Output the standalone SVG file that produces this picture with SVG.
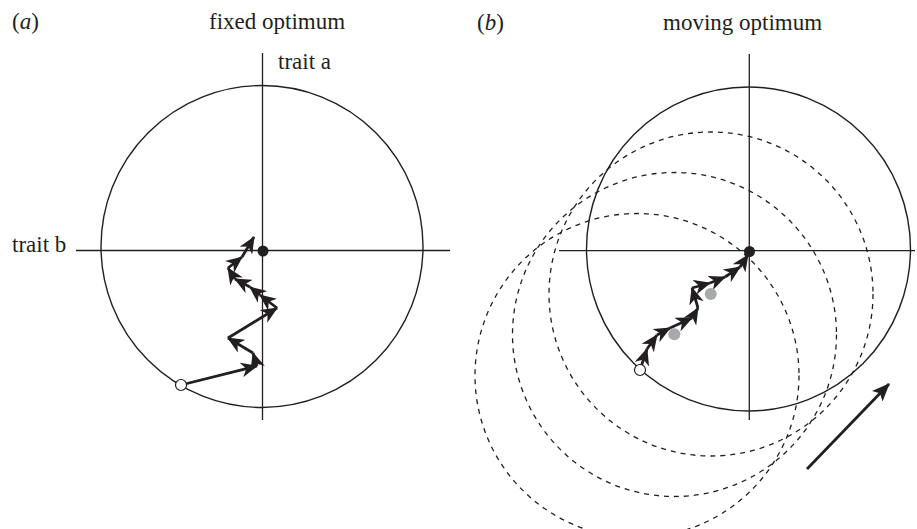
<svg xmlns="http://www.w3.org/2000/svg" width="917" height="529" viewBox="0 0 917 529">
<style>
  .lbl { font-family: "Liberation Serif", "Times New Roman", serif; font-size: 23px; fill: #231f20; }
  .axis { stroke: #231f20; stroke-width: 1.3; fill: none; }
  .contour { stroke: #231f20; stroke-width: 1.4; fill: none; }
  .dash { stroke: #231f20; stroke-width: 1.3; fill: none; stroke-dasharray: 5 5; }
  .step { stroke: #231f20; stroke-width: 2.8; fill: none; marker-end: url(#ah); }
  .opt { fill: #231f20; }
  .start { fill: #ffffff; stroke: #231f20; stroke-width: 1.2; }
  .prev { fill: #a7a9ac; }
</style>
<defs>
  <marker id="ah" markerUnits="userSpaceOnUse" markerWidth="17" markerHeight="15" refX="16" refY="7.5" orient="auto">
    <path d="M0,0 L17,7.5 L0,15 L5,7.5 z" fill="#231f20"/>
  </marker>
  <marker id="ahBig" markerUnits="userSpaceOnUse" markerWidth="18" markerHeight="15" refX="17" refY="7.5" orient="auto">
    <path d="M0,0 L18,7.5 L0,15 L4,7.5 z" fill="#231f20"/>
  </marker>
</defs>

<g id="labels">
  <text class="lbl" x="12" y="29">(<tspan font-style="italic">a</tspan>)</text>
  <text class="lbl" x="209" y="29">fixed optimum</text>
  <text class="lbl" x="477" y="30">(<tspan font-style="italic">b</tspan>)</text>
  <text class="lbl" x="663" y="30">moving optimum</text>
  <text class="lbl" x="278" y="69">trait a</text>
  <text class="lbl" x="12" y="252">trait b</text>
</g>

<g id="panel-a">
  <line class="axis" x1="262.5" y1="53" x2="262.5" y2="420"/>
  <line class="axis" x1="76" y1="250.5" x2="450" y2="250.5"/>
  <circle id="contour-a" class="contour" cx="262" cy="246.5" r="161"/>
</g>

<g id="panel-b">
  <line class="axis" x1="749.3" y1="54" x2="749.3" y2="420"/>
  <line class="axis" x1="559" y1="250.7" x2="915" y2="250.7"/>
  <circle id="contour-b" class="contour" cx="748.5" cy="249" r="162"/>
  <circle id="contour-b1" class="dash" cx="711" cy="294" r="162"/>
  <circle id="contour-b2" class="dash" cx="674.5" cy="334.5" r="162"/>
  <circle id="contour-b3" class="dash" cx="637" cy="375.5" r="162"/>
</g>

<g id="connectors">
  <line class="step" x1="181" y1="385" x2="257" y2="366"/>
  <line class="step" x1="257" y1="366" x2="253" y2="353"/>
  <line class="step" x1="253" y1="353" x2="228" y2="338"/>
  <line class="step" x1="228" y1="338" x2="277" y2="308"/>
  <line class="step" x1="277" y1="308" x2="260" y2="295"/>
  <line class="step" x1="260" y1="295" x2="250" y2="287"/>
  <line class="step" x1="250" y1="287" x2="235" y2="279"/>
  <line class="step" x1="235" y1="279" x2="228" y2="268"/>
  <line class="step" x1="228" y1="268" x2="242" y2="257"/>
  <line class="step" x1="242" y1="257" x2="254" y2="237"/>

  <line class="step" x1="640" y1="370" x2="647" y2="349"/>
  <line class="step" x1="647" y1="349" x2="657" y2="335"/>
  <line class="step" x1="657" y1="335" x2="670" y2="328"/>
  <line class="step" x1="670" y1="328" x2="692" y2="318"/>
  <line class="step" x1="692" y1="318" x2="698" y2="308"/>
  <line class="step" x1="698" y1="308" x2="692" y2="288"/>
  <line class="step" x1="692" y1="288" x2="710" y2="283"/>
  <line class="step" x1="710" y1="283" x2="725" y2="277"/>
  <line class="step" x1="725" y1="277" x2="740" y2="267"/>
  <line class="step" x1="740" y1="267" x2="748" y2="255"/>

  <line id="shift-arrow" x1="807" y1="469" x2="889" y2="384" stroke="#231f20" stroke-width="2.8" marker-end="url(#ahBig)"/>
</g>

<g id="points">
  <circle class="opt" cx="263" cy="251" r="5.5"/>
  <circle class="start" cx="181" cy="385" r="5.5"/>
  <circle class="opt" cx="749.5" cy="251.5" r="5.5"/>
  <circle class="prev" cx="710.7" cy="294" r="6"/>
  <circle class="prev" cx="674.3" cy="334.3" r="6"/>
  <circle class="start" cx="640" cy="370" r="5.5"/>
</g>
</svg>
